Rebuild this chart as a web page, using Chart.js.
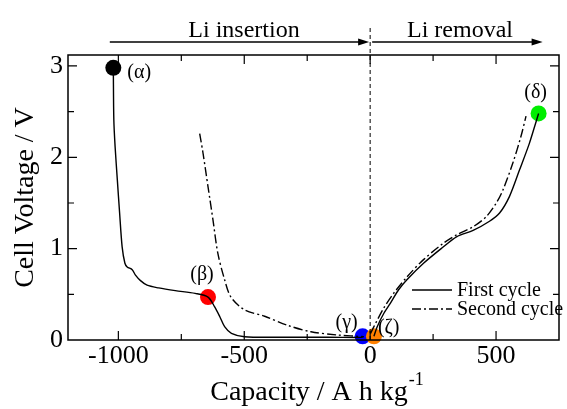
<!DOCTYPE html>
<html>
<head>
<meta charset="utf-8">
<script src="https://cdn.jsdelivr.net/npm/chart.js@4/dist/chart.umd.min.js"></script>
<style>
  html, body { margin: 0; padding: 0; background: #fff; }
</style>
</head>
<body>
<canvas id="voltageChart" width="567" height="409"></canvas>
<script>
// first cycle, Li insertion (solid)
const firstInsCap = [-1020, -1018, -1013, -1004, -995, -985, -974, -965, -945, -932, -912, -886, -840, -774, -695, -644, -618, -597, -578, -551, -499, -367, -170, -51, -30];
const firstInsV   = [2.98, 2.41, 2.12, 1.75, 1.39, 1.02, 0.84, 0.80, 0.77, 0.71, 0.65, 0.60, 0.57, 0.54, 0.51, 0.47, 0.365, 0.255, 0.146, 0.073, 0.036, 0.03, 0.03, 0.028, 0.03];
// first cycle, Li removal (solid)
const firstRemCap = [15, 28, 54, 80, 113, 146, 212, 291, 343, 409, 474, 514, 553, 593, 632, 659, 669];
const firstRemV   = [0.04, 0.146, 0.29, 0.40, 0.55, 0.66, 0.84, 1.02, 1.13, 1.20, 1.30, 1.39, 1.57, 1.86, 2.15, 2.39, 2.48];
// second cycle, Li insertion (dash-dot)
const secondInsCap = [-677, -664, -644, -624, -605, -578, -553, -499, -419, -327, -235, -130, -25];
const secondInsV   = [2.26, 2.05, 1.68, 1.31, 0.95, 0.66, 0.47, 0.33, 0.26, 0.16, 0.09, 0.055, 0.036];
// second cycle, Li removal (dash-dot)
const secondRemCap = [1, 21, 54, 93, 146, 212, 291, 343, 409, 461, 501, 527, 567, 599, 619];
const secondRemV   = [0.07, 0.18, 0.35, 0.51, 0.69, 0.88, 1.06, 1.15, 1.24, 1.35, 1.50, 1.64, 1.94, 2.23, 2.45];
// marked states
const markerLabels = ['(α)', '(β)', '(γ)', '(ζ)', '(δ)'];
const markerCap    = [-1020, -644, -30, 15, 669];
const markerV      = [2.98, 0.47, 0.04, 0.04, 2.48];
const markerColors = ['#000000', '#ff0000', '#0000ff', '#ff8000', '#00ee00'];
// axis ticks (all marks, then the labelled ones)
const xTickMarks  = [-1000, -750, -500, -250, 0, 250, 500];
const xTickValues = [-1000, -500, 0, 500];
const yTickMarks  = [0, 0.5, 1, 1.5, 2, 2.5, 3];
const yTickValues = [0, 1, 2, 3];
const legendLabels = ['First cycle', 'Second cycle'];

const SERIF = "'Liberation Serif', 'Times New Roman', serif";
const DASHDOT = [9, 3, 2, 3];

function pts(xs, ys) {
    return xs.map((x, i) => ({ x: x, y: ys[i] }));
}

// label offsets (px) from each marker, and alignment
const labelOffsets = [
    { dx: 14, dy: 5, align: 'left' },
    { dx: -6, dy: -22, align: 'center' },
    { dx: -16, dy: -14, align: 'center' },
    { dx: 4, dy: -9, align: 'left' },
    { dx: -3, dy: -21, align: 'center' },
];

function arrow(ctx, x1, x2, y) {
    ctx.beginPath();
    ctx.moveTo(x1, y);
    ctx.lineTo(x2 - 8, y);
    ctx.stroke();
    ctx.beginPath();
    ctx.moveTo(x2, y);
    ctx.lineTo(x2 - 11, y - 3.5);
    ctx.lineTo(x2 - 11, y + 3.5);
    ctx.closePath();
    ctx.fill();
}

const decorations = {
    id: 'decorations',
    afterDatasetsDraw(chart) {
        const ctx = chart.ctx;
        const xs = chart.scales.x;
        const ys = chart.scales.y;
        const a = chart.chartArea;
        ctx.save();
        ctx.strokeStyle = '#000';
        ctx.fillStyle = '#000';

        // frame
        ctx.lineWidth = 1.5;
        ctx.strokeRect(a.left, a.top, a.right - a.left, a.bottom - a.top);

        // inward ticks on all sides
        ctx.lineWidth = 1.2;
        ctx.beginPath();
        xTickMarks.forEach(v => {
            const px = xs.getPixelForValue(v);
            const len = xTickValues.includes(v) ? 9 : 6;
            ctx.moveTo(px, a.bottom); ctx.lineTo(px, a.bottom - len);
            ctx.moveTo(px, a.top); ctx.lineTo(px, a.top + len);
        });
        yTickMarks.forEach(v => {
            if (v === 0) return;
            const py = ys.getPixelForValue(v);
            const len = yTickValues.includes(v) ? 9 : 6;
            ctx.moveTo(a.left, py); ctx.lineTo(a.left + len, py);
            ctx.moveTo(a.right, py); ctx.lineTo(a.right - len, py);
        });
        ctx.stroke();

        // marker labels
        ctx.font = '20px ' + SERIF;
        ctx.textBaseline = 'middle';
        markerLabels.forEach((lab, i) => {
            const o = labelOffsets[i];
            ctx.textAlign = o.align;
            ctx.fillText(lab, xs.getPixelForValue(markerCap[i]) + o.dx, ys.getPixelForValue(markerV[i]) + o.dy);
        });

        // legend
        const lx = 412, ly = [290, 309];
        ctx.lineWidth = 1.5;
        ctx.textAlign = 'left';
        ctx.font = '20px ' + SERIF;
        legendLabels.forEach((lab, i) => {
            ctx.setLineDash(i === 0 ? [] : DASHDOT);
            ctx.beginPath();
            ctx.moveTo(lx, ly[i]);
            ctx.lineTo(lx + 40, ly[i]);
            ctx.stroke();
            ctx.setLineDash([]);
            ctx.fillText(lab, lx + 45, ly[i] + 1);
        });

        // header arrows and text
        const x0 = xs.getPixelForValue(0);
        ctx.lineWidth = 1.3;
        arrow(ctx, xs.getPixelForValue(-1034), x0 - 1, 42);
        arrow(ctx, x0 + 2, xs.getPixelForValue(685), 42);
        ctx.font = '24px ' + SERIF;
        ctx.textAlign = 'center';
        ctx.textBaseline = 'alphabetic';
        ctx.fillText('Li insertion', 244, 37);
        ctx.fillText('Li removal', 460, 37);

        // axis titles
        ctx.font = '28px ' + SERIF;
        const main = 'Capacity / A h kg';
        const w1 = ctx.measureText(main).width;
        ctx.font = '18px ' + SERIF;
        const w2 = ctx.measureText('-1').width;
        const sx = (a.left + a.right) / 2 + 3 - (w1 + w2) / 2;
        ctx.textAlign = 'left';
        ctx.font = '28px ' + SERIF;
        ctx.fillText(main, sx, 400);
        ctx.font = '18px ' + SERIF;
        ctx.fillText('-1', sx + w1 + 1, 385);

        ctx.translate(33, (a.top + a.bottom) / 2);
        ctx.rotate(-Math.PI / 2);
        ctx.font = '28px ' + SERIF;
        ctx.textAlign = 'center';
        ctx.fillText('Cell Voltage / V', 0, 0);
        ctx.restore();
    }
};

const lineStyle = { showLine: true, pointRadius: 0, borderColor: '#000', borderWidth: 1.4, tension: 0.3, fill: false };

new Chart(document.getElementById('voltageChart'), {
    type: 'scatter',
    data: {
        datasets: [
            { label: 'zero', data: [{ x: 0, y: 0 }, { x: 0, y: 3.44 }], showLine: true, pointRadius: 0,
              borderColor: '#000', borderWidth: 1, borderDash: [4, 3], clip: false },
            Object.assign({ label: 'first insertion', data: pts(firstInsCap, firstInsV) }, lineStyle),
            Object.assign({ label: 'first removal', data: pts(firstRemCap, firstRemV) }, lineStyle),
            Object.assign({ label: 'second insertion', data: pts(secondInsCap, secondInsV), borderDash: DASHDOT }, lineStyle),
            Object.assign({ label: 'second removal', data: pts(secondRemCap, secondRemV), borderDash: DASHDOT }, lineStyle),
            { label: 'states', data: pts(markerCap, markerV), pointRadius: 8, pointHoverRadius: 8,
              backgroundColor: markerColors, borderColor: markerColors, borderWidth: 0, clip: false },
        ],
    },
    options: {
        responsive: false,
        animation: false,
        devicePixelRatio: 1,
        layout: { padding: { left: 0, right: 3, top: 55, bottom: 0 } },
        plugins: { legend: { display: false }, tooltip: { enabled: false } },
        scales: {
            x: {
                type: 'linear',
                min: -1200,
                max: 750,
                grid: { display: false, drawTicks: false },
                border: { display: false },
                afterBuildTicks: s => { s.ticks = xTickValues.map(v => ({ value: v })); },
                ticks: {
                    autoSkip: false,
                    maxRotation: 0,
                    padding: 1,
                    color: '#000',
                    font: { family: SERIF, size: 26 },
                    callback: v => String(v),
                },
                afterFit: s => { s.height = 69; s.paddingLeft = 0; s.paddingRight = 0; },
            },
            y: {
                type: 'linear',
                min: 0,
                max: 3.12,
                grid: { display: false, drawTicks: false },
                border: { display: false },
                afterBuildTicks: s => { s.ticks = yTickValues.map(v => ({ value: v })); },
                ticks: {
                    autoSkip: false,
                    padding: 5,
                    color: '#000',
                    font: { family: SERIF, size: 26 },
                    callback: v => String(v),
                },
                afterFit: s => { s.width = 68; s.paddingTop = 0; s.paddingBottom = 0; },
            },
        },
    },
    plugins: [decorations],
});
</script>
</body>
</html>
